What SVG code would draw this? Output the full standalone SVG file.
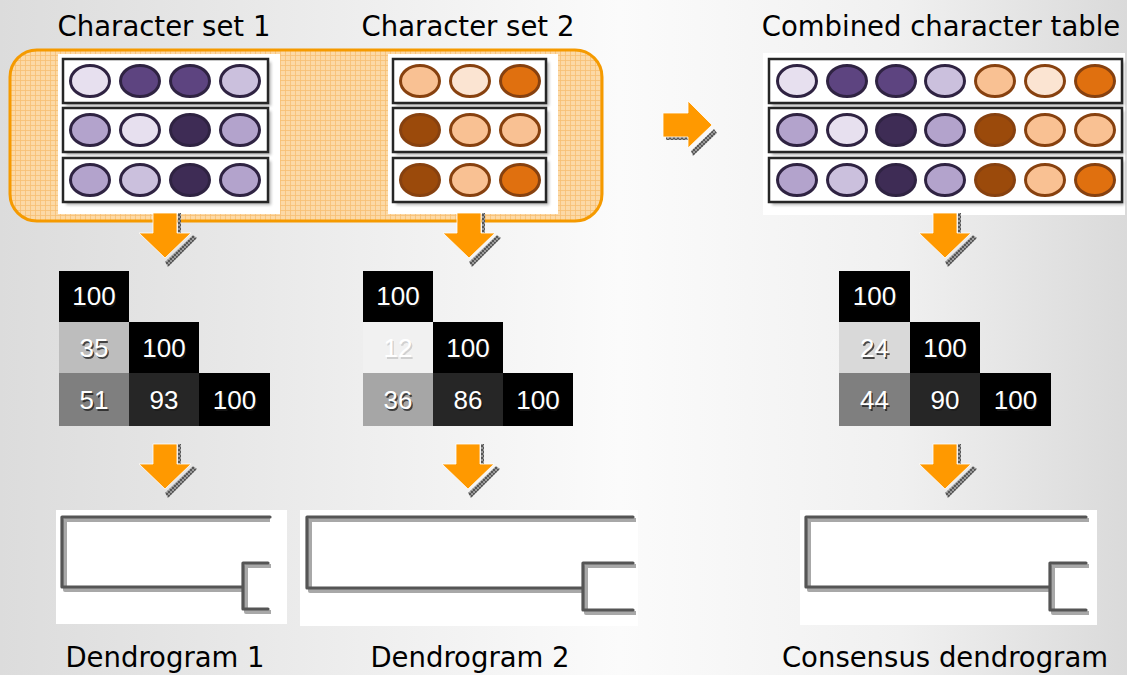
<svg xmlns="http://www.w3.org/2000/svg" width="1127" height="675" viewBox="0 0 1127 675">
  <defs>
    <linearGradient id="bg" x1="0" y1="0" x2="1" y2="0">
      <stop offset="0" stop-color="#dcdcdc"/>
      <stop offset="0.55" stop-color="#fbfbfb"/>
      <stop offset="0.8" stop-color="#f0f0f0"/>
      <stop offset="1" stop-color="#dadada"/>
    </linearGradient>
    <pattern id="grid" width="5" height="5" patternUnits="userSpaceOnUse">
      <rect width="5" height="5" fill="#fcd9a6"/>
      <path d="M0 0.5H5M0.5 0V5" stroke="#f8bf72" stroke-width="0.8"/>
    </pattern>
    <pattern id="hatch" width="4" height="4" patternUnits="userSpaceOnUse">
      <rect width="4" height="4" fill="#9a9a9a"/>
      <path d="M0 0L4 4M4 0L0 4" stroke="#3a3a3a" stroke-width="0.7"/>
    </pattern>
    <filter id="soft" x="-10%" y="-10%" width="130%" height="140%">
      <feGaussianBlur stdDeviation="1.4"/>
    </filter>
    <filter id="blur1" x="-5%" y="-10%" width="110%" height="130%">
      <feGaussianBlur stdDeviation="0.6"/>
    </filter>
    <!-- downward block arrow, origin at top centre of the shaft -->
    <g id="down">
      <rect x="13" y="0" width="3" height="21" fill="url(#hatch)"/>
      <polygon points="28,22 32,25 3,54 0,49" fill="url(#hatch)"/>
      <polygon points="-12,0 12,0 12,20 26,20 0,45 -26,20 -12,20" fill="#ff9900" stroke="#ffffff" stroke-width="0.8"/>
    </g>
    <!-- one row of a character table -->
    <g id="rowshadow">
      <rect width="100" height="44" fill="#8a8a8a" opacity="0.55" filter="url(#soft)"/>
    </g>
  </defs>
  <style>
    .lbl { font-family: "DejaVu Sans", Verdana, sans-serif; font-size: 27.5px; fill: #000; text-anchor: middle; }
    .num { font-family: "Liberation Sans", Arial, sans-serif; font-size: 26px; fill: #fff; text-anchor: middle; }
    .numsh { font-family: "Liberation Sans", Arial, sans-serif; font-size: 26px; fill: #1a1a1a; opacity: 0.75; text-anchor: middle; }
    .panel { fill: #ffffff; }
    .rowbox { fill: #ffffff; stroke: #262626; stroke-width: 2.5; }
    .rowsh { fill: #7a7a7a; opacity: 0.55; filter: url(#soft); }
    .p { stroke: #2f2342; stroke-width: 3; }
    .o { stroke: #87410f; stroke-width: 3; }
    .p1 { fill: #e7e0ef; }
    .p2 { fill: #cbc0dd; }
    .p3 { fill: #b3a3cc; }
    .p4 { fill: #5d4480; }
    .p5 { fill: #3e2c55; }
    .o1 { fill: #fbe4d2; }
    .o2 { fill: #f9c193; }
    .o3 { fill: #e0700f; }
    .o4 { fill: #9b4a0b; }
    .tree { fill: none; stroke: #555555; stroke-width: 3.2; stroke-linejoin: round; stroke-linecap: round; }
    .treesh { fill: none; stroke: #a8a8a8; stroke-width: 4; stroke-linejoin: round; filter: url(#blur1); }
    .c0 { fill: #000000; }
  </style>

  <rect width="1127" height="675" fill="url(#bg)"/>

  <!-- titles -->
  <g id="titles">
    <text class="lbl" x="164" y="36">Character set 1</text>
    <text class="lbl" x="468" y="36">Character set 2</text>
    <text class="lbl" x="941" y="36">Combined character table</text>
    <text class="lbl" x="165" y="667">Dendrogram 1</text>
    <text class="lbl" x="470" y="667">Dendrogram 2</text>
    <text class="lbl" x="945" y="667">Consensus dendrogram</text>
  </g>

  <!-- highlighted input region -->
  <rect id="inputs" x="10" y="50" width="592" height="171" rx="27" fill="url(#grid)" stroke="#f59a00" stroke-width="3"/>

  <!-- character set 1 -->
  <g id="set1">
    <rect class="panel" x="58" y="54" width="222" height="160"/>
    <rect class="rowsh" x="66" y="62" width="205" height="44"/>
    <rect class="rowsh" x="66" y="111" width="205" height="44"/>
    <rect class="rowsh" x="66" y="161" width="205" height="44"/>
    <rect class="rowbox" x="63" y="59" width="205" height="44"/>
    <rect class="rowbox" x="63" y="108" width="205" height="44"/>
    <rect class="rowbox" x="63" y="158" width="205" height="44"/>
    <ellipse class="p p1" cx="90" cy="81" rx="19.5" ry="15.5"/>
    <ellipse class="p p4" cx="140" cy="81" rx="19.5" ry="15.5"/>
    <ellipse class="p p4" cx="190" cy="81" rx="19.5" ry="15.5"/>
    <ellipse class="p p2" cx="240" cy="81" rx="19.5" ry="15.5"/>
    <ellipse class="p p3" cx="90" cy="130" rx="19.5" ry="15.5"/>
    <ellipse class="p p1" cx="140" cy="130" rx="19.5" ry="15.5"/>
    <ellipse class="p p5" cx="190" cy="130" rx="19.5" ry="15.5"/>
    <ellipse class="p p3" cx="240" cy="130" rx="19.5" ry="15.5"/>
    <ellipse class="p p3" cx="90" cy="180" rx="19.5" ry="15.5"/>
    <ellipse class="p p2" cx="140" cy="180" rx="19.5" ry="15.5"/>
    <ellipse class="p p5" cx="190" cy="180" rx="19.5" ry="15.5"/>
    <ellipse class="p p3" cx="240" cy="180" rx="19.5" ry="15.5"/>
  </g>

  <!-- character set 2 -->
  <g id="set2">
    <rect class="panel" x="388" y="54" width="170" height="160"/>
    <rect class="rowsh" x="396" y="62" width="153" height="44"/>
    <rect class="rowsh" x="396" y="111" width="153" height="44"/>
    <rect class="rowsh" x="396" y="161" width="153" height="44"/>
    <rect class="rowbox" x="393" y="59" width="153" height="44"/>
    <rect class="rowbox" x="393" y="108" width="153" height="44"/>
    <rect class="rowbox" x="393" y="158" width="153" height="44"/>
    <ellipse class="o o2" cx="420" cy="81" rx="19.5" ry="15.5"/>
    <ellipse class="o o1" cx="470" cy="81" rx="19.5" ry="15.5"/>
    <ellipse class="o o3" cx="520" cy="81" rx="19.5" ry="15.5"/>
    <ellipse class="o o4" cx="420" cy="130" rx="19.5" ry="15.5"/>
    <ellipse class="o o2" cx="470" cy="130" rx="19.5" ry="15.5"/>
    <ellipse class="o o2" cx="520" cy="130" rx="19.5" ry="15.5"/>
    <ellipse class="o o4" cx="420" cy="180" rx="19.5" ry="15.5"/>
    <ellipse class="o o2" cx="470" cy="180" rx="19.5" ry="15.5"/>
    <ellipse class="o o3" cx="520" cy="180" rx="19.5" ry="15.5"/>
  </g>

  <!-- combined table -->
  <g id="combined">
    <rect class="panel" x="763" y="53" width="362" height="162"/>
    <rect class="rowsh" x="772" y="62" width="352" height="44"/>
    <rect class="rowsh" x="772" y="111" width="352" height="44"/>
    <rect class="rowsh" x="772" y="161" width="352" height="44"/>
    <rect class="rowbox" x="769" y="59" width="353" height="44"/>
    <rect class="rowbox" x="769" y="108" width="353" height="44"/>
    <rect class="rowbox" x="769" y="158" width="353" height="44"/>
    <ellipse class="p p1" cx="797" cy="81" rx="19.5" ry="15.5"/>
    <ellipse class="p p4" cx="847" cy="81" rx="19.5" ry="15.5"/>
    <ellipse class="p p4" cx="896" cy="81" rx="19.5" ry="15.5"/>
    <ellipse class="p p2" cx="945" cy="81" rx="19.5" ry="15.5"/>
    <ellipse class="o o2" cx="995" cy="81" rx="19.5" ry="15.5"/>
    <ellipse class="o o1" cx="1045" cy="81" rx="19.5" ry="15.5"/>
    <ellipse class="o o3" cx="1095" cy="81" rx="19.5" ry="15.5"/>
    <ellipse class="p p3" cx="797" cy="130" rx="19.5" ry="15.5"/>
    <ellipse class="p p1" cx="847" cy="130" rx="19.5" ry="15.5"/>
    <ellipse class="p p5" cx="896" cy="130" rx="19.5" ry="15.5"/>
    <ellipse class="p p3" cx="945" cy="130" rx="19.5" ry="15.5"/>
    <ellipse class="o o4" cx="995" cy="130" rx="19.5" ry="15.5"/>
    <ellipse class="o o2" cx="1045" cy="130" rx="19.5" ry="15.5"/>
    <ellipse class="o o2" cx="1095" cy="130" rx="19.5" ry="15.5"/>
    <ellipse class="p p3" cx="797" cy="180" rx="19.5" ry="15.5"/>
    <ellipse class="p p2" cx="847" cy="180" rx="19.5" ry="15.5"/>
    <ellipse class="p p5" cx="896" cy="180" rx="19.5" ry="15.5"/>
    <ellipse class="p p3" cx="945" cy="180" rx="19.5" ry="15.5"/>
    <ellipse class="o o4" cx="995" cy="180" rx="19.5" ry="15.5"/>
    <ellipse class="o o2" cx="1045" cy="180" rx="19.5" ry="15.5"/>
    <ellipse class="o o3" cx="1095" cy="180" rx="19.5" ry="15.5"/>
  </g>

  <!-- similarity matrix 1 -->
  <g id="matrix1">
    <rect class="c0" x="59" y="271" width="70" height="51"/>
    <rect fill="#bdbdbd" x="59" y="322" width="70" height="51"/>
    <rect class="c0" x="129" y="322" width="70" height="51"/>
    <rect fill="#7f7f7f" x="59" y="373" width="70" height="53"/>
    <rect fill="#262626" x="129" y="373" width="70" height="53"/>
    <rect class="c0" x="199" y="373" width="71" height="53"/>
    <text class="numsh" x="95.5" y="306.5">100</text><text class="num" x="94" y="305">100</text>
    <text class="numsh" x="95.5" y="358.5">35</text><text class="num" x="94" y="357">35</text>
    <text class="numsh" x="165.5" y="358.5">100</text><text class="num" x="164" y="357">100</text>
    <text class="numsh" x="95.5" y="410.5">51</text><text class="num" x="94" y="409">51</text>
    <text class="numsh" x="165.5" y="410.5">93</text><text class="num" x="164" y="409">93</text>
    <text class="numsh" x="236" y="410.5">100</text><text class="num" x="234.5" y="409">100</text>
  </g>

  <!-- similarity matrix 2 -->
  <g id="matrix2">
    <rect class="c0" x="363" y="271" width="70" height="51"/>
    <rect fill="#f1f1f1" x="363" y="322" width="70" height="51"/>
    <rect class="c0" x="433" y="322" width="70" height="51"/>
    <rect fill="#a6a6a6" x="363" y="373" width="70" height="53"/>
    <rect fill="#262626" x="433" y="373" width="70" height="53"/>
    <rect class="c0" x="503" y="373" width="70" height="53"/>
    <text class="numsh" x="399.5" y="306.5">100</text><text class="num" x="398" y="305">100</text>
    <text class="numsh" x="399.5" y="358.5" style="opacity:0.15">12</text><text class="num" x="398" y="357">12</text>
    <text class="numsh" x="469.5" y="358.5">100</text><text class="num" x="468" y="357">100</text>
    <text class="numsh" x="399.5" y="410.5">36</text><text class="num" x="398" y="409">36</text>
    <text class="numsh" x="469.5" y="410.5">86</text><text class="num" x="468" y="409">86</text>
    <text class="numsh" x="539.5" y="410.5">100</text><text class="num" x="538" y="409">100</text>
  </g>

  <!-- consensus similarity matrix -->
  <g id="matrix3">
    <rect class="c0" x="839" y="271" width="71" height="51"/>
    <rect fill="#d9d9d9" x="839" y="322" width="71" height="51"/>
    <rect class="c0" x="910" y="322" width="70" height="51"/>
    <rect fill="#7f7f7f" x="839" y="373" width="71" height="53"/>
    <rect fill="#262626" x="910" y="373" width="70" height="53"/>
    <rect class="c0" x="980" y="373" width="71" height="53"/>
    <text class="numsh" x="876" y="306.5">100</text><text class="num" x="874.5" y="305">100</text>
    <text class="numsh" x="876" y="358.5">24</text><text class="num" x="874.5" y="357">24</text>
    <text class="numsh" x="946.5" y="358.5">100</text><text class="num" x="945" y="357">100</text>
    <text class="numsh" x="876" y="410.5">44</text><text class="num" x="874.5" y="409">44</text>
    <text class="numsh" x="946.5" y="410.5">90</text><text class="num" x="945" y="409">90</text>
    <text class="numsh" x="1017" y="410.5">100</text><text class="num" x="1015.5" y="409">100</text>
  </g>

  <!-- dendrograms -->
  <g id="dendro1">
    <rect class="panel" x="56" y="510" width="231" height="114"/>
    <path class="treesh" d="M270 520H65V590H246M271 566H246V612H271"/>
    <path class="tree" d="M270 517H62V587H243M268 563H243V609H268"/>
  </g>
  <g id="dendro2">
    <rect class="panel" x="300" y="510" width="338" height="116"/>
    <path class="treesh" d="M636 520H310V591H586M636 566H586V613H636"/>
    <path class="tree" d="M633 517H307V588H583M633 563H583V610H633"/>
  </g>
  <g id="dendro3">
    <rect class="panel" x="800" y="510" width="297" height="115"/>
    <path class="treesh" d="M1089 520H809V590H1053M1089 566H1053V613H1089"/>
    <path class="tree" d="M1086 517H806V587H1050M1086 563H1050V610H1086"/>
  </g>

  <!-- flow arrows -->
  <g id="connectors">
    <use href="#down" x="165" y="213"/>
    <use href="#down" x="469" y="213"/>
    <use href="#down" x="945" y="213"/>
    <use href="#down" x="165" y="444"/>
    <use href="#down" x="468" y="444"/>
    <use href="#down" x="945" y="444"/>
    <g id="merge-arrow">
      <rect x="666" y="137" width="22" height="3" fill="url(#hatch)"/>
      <polygon points="714,129 717,133 693,156 691,151" fill="url(#hatch)"/>
      <polygon points="663,113 688,113 688,101 712,125 688,148 688,137 663,137" fill="#ff9900" stroke="#ffffff" stroke-width="0.8"/>
    </g>
  </g>
</svg>
